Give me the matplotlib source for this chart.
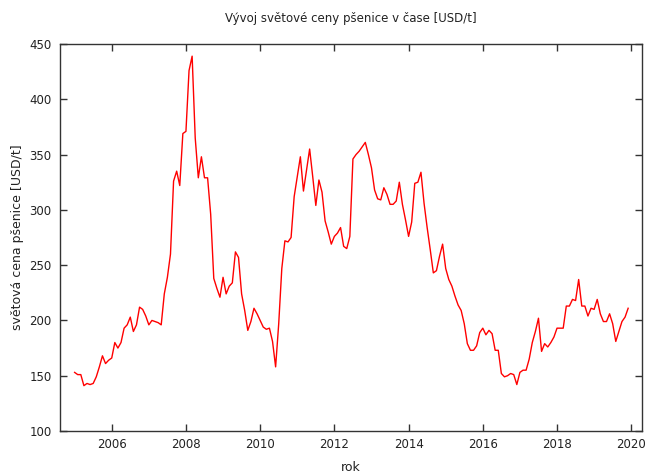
import numpy as np
import matplotlib
matplotlib.use("Agg")
import matplotlib.pyplot as plt

# monthly wheat price, Jan 2005 .. Dec 2019 [USD/t]
start_year = 2005
prices = [
    153, 151, 151, 141, 143, 142, 143, 149, 158, 168, 161, 164,   # 2005
    166, 180, 175, 180, 193, 196, 203, 190, 196, 212, 210, 204,   # 2006
    196, 200, 199, 198, 196, 224, 239, 260, 326, 335, 322, 369,   # 2007
    371, 426, 439, 365, 329, 348, 329, 329, 296, 238, 229, 221,   # 2008
    239, 224, 231, 234, 262, 257, 224, 209, 191, 199, 211, 206,   # 2009
    200, 194, 192, 193, 181, 158, 197, 247, 272, 271, 275, 312,   # 2010
    330, 348, 317, 336, 355, 330, 304, 327, 316, 290, 280, 269,   # 2011
    276, 279, 284, 267, 265, 276, 346, 350, 353, 357, 361, 350,   # 2012
    338, 318, 310, 309, 320, 314, 305, 305, 308, 325, 305, 291,   # 2013
    276, 289, 324, 325, 334, 306, 284, 264, 243, 245, 258, 269,   # 2014
    247, 237, 231, 222, 214, 209, 197, 179, 173, 173, 177, 189,   # 2015
    193, 187, 191, 188, 173, 173, 152, 149, 150, 152, 151, 142,   # 2016
    153, 155, 155, 165, 180, 190, 202, 172, 179, 176, 180, 185,   # 2017
    193, 193, 193, 213, 213, 219, 218, 237, 213, 213, 204, 211,   # 2018
    210, 219, 206, 199, 199, 206, 197, 181, 190, 199, 203, 211,   # 2019
]
x_ticks = [2006, 2008, 2010, 2012, 2014, 2016, 2018, 2020]
y_ticks = [100, 150, 200, 250, 300, 350, 400, 450]

years = start_year + np.arange(len(prices)) / 12.0

fig = plt.figure(figsize=(6.45, 4.75), dpi=100)
ax = fig.add_axes([60 / 645, 1 - 431 / 475, 582 / 645, 387 / 475])

ax.plot(years, prices, color="#ff0000", linewidth=1.0)

ax.set_xlim(2004.606, 2020.29)
ax.set_ylim(100, 450)
ax.set_xticks(x_ticks)
ax.set_yticks(y_ticks)
ax.tick_params(direction="in", length=5, width=1, labelsize=8.5,
               top=True, right=True, colors="#333333", labelcolor="#222222")
ax.tick_params(axis="y", pad=6)
ax.tick_params(axis="x", pad=5)
for s in ax.spines.values():
    s.set_color("#333333")
    s.set_linewidth(1)

ax.set_title("Vývoj světové ceny pšenice v čase [USD/t]", fontsize=8.5,
             color="#222222", pad=16)
ax.set_xlabel("rok", fontsize=9, color="#222222", labelpad=7)
ax.set_ylabel("světová cena pšenice [USD/t]", fontsize=9, color="#222222",
              labelpad=4)

fig.savefig("out.png", dpi=100)
